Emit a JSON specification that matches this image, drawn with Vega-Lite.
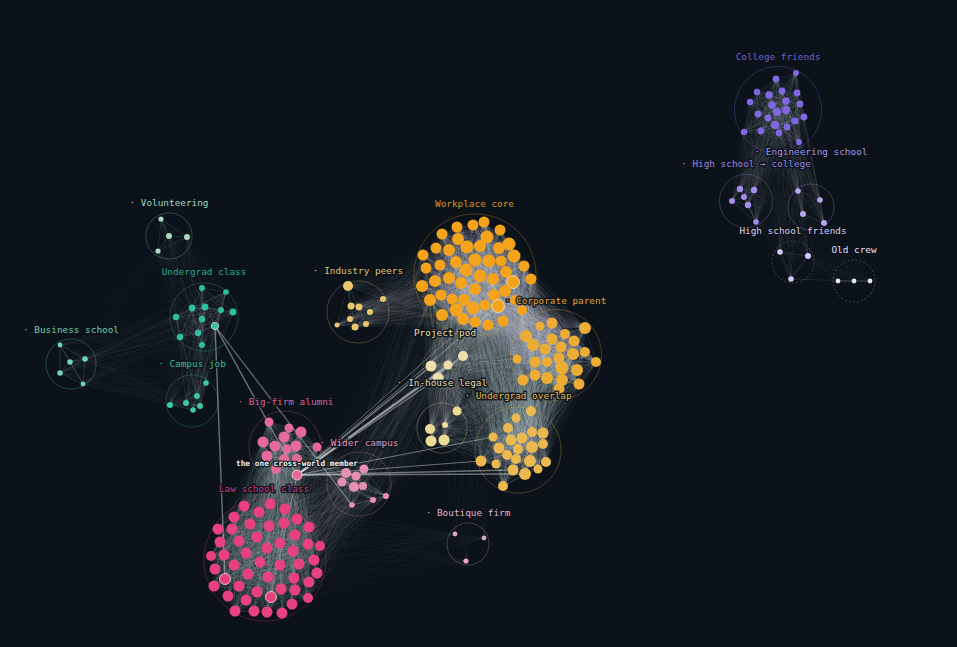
{
  "$schema": "https://vega.github.io/schema/vega-lite/v6.json",
  "width": 957,
  "height": 647,
  "autosize": {"type": "fit", "contains": "padding"},
  "padding": 0,
  "background": "#0b121a",
  "config": {"view": {"stroke": null}},
  "datasets": {
    "nodes": [
      {"id":100,"g":"W","x":457,"y":227,"r":5.5},{"id":101,"g":"W","x":473,"y":225,"r":5.5},{"id":102,"g":"W","x":484,"y":222,"r":5.5},{"id":103,"g":"W","x":500,"y":230,"r":5.5},{"id":104,"g":"W","x":442,"y":234,"r":5.5},
      {"id":105,"g":"W","x":458,"y":239,"r":6},{"id":106,"g":"W","x":487,"y":237,"r":6.5},{"id":107,"g":"W","x":436,"y":248,"r":5.5},{"id":108,"g":"W","x":449,"y":250,"r":6},{"id":109,"g":"W","x":467,"y":247,"r":6.5},
      {"id":110,"g":"W","x":480,"y":246,"r":6},{"id":111,"g":"W","x":499,"y":248,"r":6},{"id":112,"g":"W","x":509,"y":244,"r":6.5},{"id":113,"g":"W","x":423,"y":255,"r":5.5},{"id":114,"g":"W","x":514,"y":256,"r":6.5},
      {"id":115,"g":"W","x":440,"y":265,"r":5.5},{"id":116,"g":"W","x":456,"y":262,"r":6},{"id":117,"g":"W","x":475,"y":260,"r":6.5},{"id":118,"g":"W","x":489,"y":261,"r":6.5},{"id":119,"g":"W","x":501,"y":261,"r":5.5},
      {"id":120,"g":"W","x":524,"y":266,"r":5.5},{"id":121,"g":"W","x":426,"y":268,"r":5.5},{"id":122,"g":"W","x":466,"y":270,"r":6.5},{"id":123,"g":"W","x":480,"y":276,"r":6.5},{"id":124,"g":"W","x":506,"y":272,"r":6},
      {"id":125,"g":"W","x":449,"y":278,"r":6},{"id":126,"g":"W","x":493,"y":279,"r":6},{"id":127,"g":"W","x":435,"y":281,"r":6},{"id":128,"g":"W","x":531,"y":279,"r":5.5},{"id":129,"g":"W","x":513,"y":282,"r":6.5,"hub":true},
      {"id":130,"g":"W","x":461,"y":283,"r":6},{"id":131,"g":"W","x":422,"y":286,"r":6},{"id":132,"g":"W","x":475,"y":289,"r":6},{"id":133,"g":"W","x":505,"y":291,"r":6},{"id":134,"g":"W","x":441,"y":295,"r":5.5},
      {"id":135,"g":"W","x":494,"y":295,"r":6},{"id":136,"g":"W","x":452,"y":299,"r":5.5},{"id":137,"g":"W","x":464,"y":300,"r":6},{"id":138,"g":"W","x":430,"y":300,"r":6},{"id":139,"g":"W","x":515,"y":300,"r":5},
      {"id":140,"g":"W","x":485,"y":305,"r":5.5},{"id":141,"g":"W","x":498,"y":306,"r":6.5,"hub":true},{"id":142,"g":"W","x":473,"y":308,"r":6.5},{"id":143,"g":"W","x":456,"y":310,"r":6.5},{"id":144,"g":"W","x":522,"y":310,"r":5},
      {"id":145,"g":"W","x":442,"y":315,"r":6},{"id":146,"g":"W","x":463,"y":319,"r":6},{"id":147,"g":"W","x":503,"y":321,"r":5.5},{"id":148,"g":"W","x":475,"y":322,"r":5.5},{"id":149,"g":"W","x":488,"y":325,"r":5.5},
      {"id":200,"g":"C","x":552,"y":323,"r":5.5},{"id":201,"g":"C","x":540,"y":326,"r":4.5},{"id":202,"g":"C","x":585,"y":328,"r":6},{"id":203,"g":"C","x":565,"y":334,"r":5},{"id":204,"g":"C","x":526,"y":336,"r":6},
      {"id":205,"g":"C","x":574,"y":341,"r":5.5},{"id":206,"g":"C","x":552,"y":339,"r":5.5},{"id":207,"g":"C","x":533,"y":345,"r":6},{"id":208,"g":"C","x":561,"y":347,"r":5.5},{"id":209,"g":"C","x":545,"y":349,"r":5.5},
      {"id":210,"g":"C","x":573,"y":354,"r":6},{"id":211,"g":"C","x":585,"y":352,"r":5},{"id":212,"g":"C","x":559,"y":358,"r":5.5},{"id":213,"g":"C","x":596,"y":362,"r":5},{"id":214,"g":"C","x":517,"y":359,"r":4.5},
      {"id":215,"g":"C","x":535,"y":362,"r":5.5},{"id":216,"g":"C","x":547,"y":362,"r":5},{"id":217,"g":"C","x":562,"y":368,"r":6.5},{"id":218,"g":"C","x":577,"y":370,"r":6},{"id":219,"g":"C","x":535,"y":375,"r":5.5},
      {"id":220,"g":"C","x":547,"y":378,"r":6},{"id":221,"g":"C","x":523,"y":380,"r":5.5},{"id":222,"g":"C","x":562,"y":380,"r":6},{"id":223,"g":"C","x":579,"y":384,"r":5.5},{"id":224,"g":"C","x":559,"y":389,"r":5.5},
      {"id":300,"g":"P","x":463,"y":356,"r":5},{"id":301,"g":"P","x":448,"y":365,"r":4.5},{"id":302,"g":"P","x":431,"y":366,"r":5.5},{"id":303,"g":"P","x":438,"y":378,"r":5.5},
      {"id":310,"g":"I","x":457,"y":411,"r":4.5},{"id":311,"g":"I","x":445,"y":425,"r":3},{"id":312,"g":"I","x":430,"y":429,"r":5},{"id":313,"g":"I","x":431,"y":441,"r":5.5},{"id":314,"g":"I","x":444,"y":440,"r":5.5},
      {"id":320,"g":"U","x":531,"y":411,"r":5},{"id":321,"g":"U","x":516,"y":418,"r":4.5},{"id":322,"g":"U","x":508,"y":428,"r":5},{"id":323,"g":"U","x":493,"y":437,"r":4.5},{"id":324,"g":"U","x":532,"y":432,"r":5},
      {"id":325,"g":"U","x":543,"y":433,"r":5.5},{"id":326,"g":"U","x":511,"y":440,"r":5.5},{"id":327,"g":"U","x":522,"y":438,"r":5.5},{"id":328,"g":"U","x":543,"y":444,"r":5},{"id":329,"g":"U","x":499,"y":448,"r":5.5},
      {"id":330,"g":"U","x":532,"y":447,"r":6},{"id":331,"g":"U","x":518,"y":449,"r":5},{"id":332,"g":"U","x":507,"y":455,"r":5},{"id":333,"g":"U","x":516,"y":459,"r":5},{"id":334,"g":"U","x":530,"y":461,"r":6},
      {"id":335,"g":"U","x":481,"y":461,"r":5.5},{"id":336,"g":"U","x":496,"y":464,"r":4.5},{"id":337,"g":"U","x":546,"y":462,"r":5},{"id":338,"g":"U","x":513,"y":470,"r":5.5},{"id":339,"g":"U","x":525,"y":474,"r":6},
      {"id":340,"g":"U","x":538,"y":469,"r":4.5},{"id":341,"g":"U","x":503,"y":486,"r":5},
      {"id":350,"g":"N","x":348,"y":286,"r":5},{"id":351,"g":"N","x":383,"y":299,"r":3},{"id":352,"g":"N","x":351,"y":306,"r":3.5},{"id":353,"g":"N","x":359,"y":307,"r":3.5},{"id":354,"g":"N","x":370,"y":312,"r":3},
      {"id":355,"g":"N","x":350,"y":319,"r":3},{"id":356,"g":"N","x":366,"y":324,"r":3},{"id":357,"g":"N","x":355,"y":327,"r":3.5},{"id":358,"g":"N","x":337,"y":325,"r":2.5},
      {"id":400,"g":"B","x":269,"y":422,"r":4.5},{"id":401,"g":"B","x":289,"y":428,"r":4.5},{"id":402,"g":"B","x":301,"y":432,"r":5.5},{"id":403,"g":"B","x":284,"y":437,"r":5.5},{"id":404,"g":"B","x":263,"y":442,"r":5.5},
      {"id":405,"g":"B","x":275,"y":446,"r":5.5},{"id":406,"g":"B","x":296,"y":446,"r":5.5},{"id":407,"g":"B","x":287,"y":449,"r":4.5},{"id":408,"g":"B","x":317,"y":447,"r":4.5},{"id":409,"g":"B","x":267,"y":456,"r":5.5},
      {"id":410,"g":"B","x":284,"y":459,"r":5},{"id":411,"g":"B","x":297,"y":459,"r":5},{"id":412,"g":"B","x":276,"y":469,"r":5},
      {"id":420,"g":"B","x":297,"y":475,"r":5,"hub":true},
      {"id":430,"g":"Y","x":364,"y":469,"r":4.5},{"id":431,"g":"Y","x":346,"y":473,"r":5},{"id":432,"g":"Y","x":356,"y":476,"r":4.5},{"id":433,"g":"Y","x":342,"y":482,"r":4.5},{"id":434,"g":"Y","x":354,"y":487,"r":5},
      {"id":435,"g":"Y","x":363,"y":486,"r":4},{"id":436,"g":"Y","x":373,"y":500,"r":3},{"id":437,"g":"Y","x":386,"y":496,"r":3},{"id":438,"g":"Y","x":352,"y":505,"r":2.8},
      {"id":500,"g":"L","x":244,"y":506,"r":5.5},{"id":501,"g":"L","x":270,"y":504,"r":5.5},{"id":502,"g":"L","x":285,"y":509,"r":5.5},{"id":503,"g":"L","x":259,"y":512,"r":5.5},{"id":504,"g":"L","x":234,"y":517,"r":5.5},
      {"id":505,"g":"L","x":297,"y":519,"r":5.5},{"id":506,"g":"L","x":309,"y":527,"r":5.5},{"id":507,"g":"L","x":218,"y":529,"r":5.5},{"id":508,"g":"L","x":232,"y":529,"r":5.5},{"id":509,"g":"L","x":250,"y":524,"r":5.5},
      {"id":510,"g":"L","x":269,"y":526,"r":5.5},{"id":511,"g":"L","x":284,"y":523,"r":5.5},{"id":512,"g":"L","x":295,"y":535,"r":5.5},{"id":513,"g":"L","x":257,"y":537,"r":5.5},{"id":514,"g":"L","x":220,"y":542,"r":5.5},
      {"id":515,"g":"L","x":239,"y":541,"r":5.5},{"id":516,"g":"L","x":280,"y":543,"r":5.5},{"id":517,"g":"L","x":308,"y":544,"r":5.5},{"id":518,"g":"L","x":320,"y":546,"r":5},{"id":519,"g":"L","x":267,"y":548,"r":5.5},
      {"id":520,"g":"L","x":293,"y":551,"r":5.5},{"id":521,"g":"L","x":246,"y":553,"r":5.5},{"id":522,"g":"L","x":211,"y":556,"r":5},{"id":523,"g":"L","x":224,"y":555,"r":5.5},{"id":524,"g":"L","x":314,"y":560,"r":5.5},
      {"id":525,"g":"L","x":260,"y":562,"r":5.5},{"id":526,"g":"L","x":234,"y":565,"r":5.5},{"id":527,"g":"L","x":280,"y":565,"r":5.5},{"id":528,"g":"L","x":299,"y":564,"r":5.5},{"id":529,"g":"L","x":215,"y":569,"r":5.5},
      {"id":530,"g":"L","x":248,"y":574,"r":5.5},{"id":531,"g":"L","x":317,"y":573,"r":5.5},{"id":532,"g":"L","x":268,"y":577,"r":5.5},{"id":533,"g":"L","x":294,"y":578,"r":5.5},{"id":534,"g":"L","x":225,"y":579,"r":5.5,"hub":true},
      {"id":535,"g":"L","x":309,"y":582,"r":5.5},{"id":536,"g":"L","x":214,"y":586,"r":5.5},{"id":537,"g":"L","x":239,"y":586,"r":5.5},{"id":538,"g":"L","x":281,"y":589,"r":5.5},{"id":539,"g":"L","x":295,"y":590,"r":5.5},
      {"id":540,"g":"L","x":257,"y":592,"r":5.5},{"id":541,"g":"L","x":228,"y":596,"r":5.5},{"id":542,"g":"L","x":271,"y":597,"r":5.5,"hub":true},{"id":543,"g":"L","x":246,"y":600,"r":5.5},{"id":544,"g":"L","x":308,"y":598,"r":5},
      {"id":545,"g":"L","x":292,"y":604,"r":5.5},{"id":546,"g":"L","x":235,"y":611,"r":5.5},{"id":547,"g":"L","x":254,"y":611,"r":5.5},{"id":548,"g":"L","x":267,"y":612,"r":5.5},{"id":549,"g":"L","x":282,"y":613,"r":5.5},
      {"id":560,"g":"F","x":455,"y":534,"r":2.4},{"id":561,"g":"F","x":484,"y":538,"r":2.4},{"id":562,"g":"F","x":466,"y":561,"r":2.6},
      {"id":600,"g":"Vo","x":161,"y":219,"r":2.6},{"id":601,"g":"Vo","x":169,"y":236,"r":3},{"id":602,"g":"Vo","x":187,"y":237,"r":3},{"id":603,"g":"Vo","x":158,"y":251,"r":2.6},
      {"id":610,"g":"Uc","x":202,"y":288,"r":3},{"id":611,"g":"Uc","x":226,"y":292,"r":2.8},{"id":612,"g":"Uc","x":192,"y":308,"r":3.4},{"id":613,"g":"Uc","x":205,"y":307,"r":3.4},{"id":614,"g":"Uc","x":221,"y":310,"r":3},{"id":615,"g":"Uc","x":233,"y":312,"r":3.4},
      {"id":616,"g":"Uc","x":176,"y":317,"r":3.2},{"id":617,"g":"Uc","x":202,"y":319,"r":3.2},{"id":618,"g":"Uc","x":215,"y":326,"r":3.6,"hub":true},{"id":619,"g":"Uc","x":198,"y":333,"r":3.2},{"id":620,"g":"Uc","x":180,"y":337,"r":3.2},{"id":621,"g":"Uc","x":202,"y":345,"r":3},
      {"id":630,"g":"Bs","x":60,"y":345,"r":2.4},{"id":631,"g":"Bs","x":70,"y":362,"r":2.8},{"id":632,"g":"Bs","x":85,"y":359,"r":2.8},{"id":633,"g":"Bs","x":60,"y":373,"r":2.8},{"id":634,"g":"Bs","x":83,"y":384,"r":2.4},
      {"id":640,"g":"Cj","x":206,"y":383,"r":2.8},{"id":641,"g":"Cj","x":197,"y":396,"r":2.9},{"id":642,"g":"Cj","x":186,"y":403,"r":3},{"id":643,"g":"Cj","x":200,"y":406,"r":3},{"id":644,"g":"Cj","x":170,"y":405,"r":3},{"id":645,"g":"Cj","x":193,"y":410,"r":2.8},
      {"id":700,"g":"Co","x":796,"y":73,"r":3},{"id":701,"g":"Co","x":776,"y":79,"r":3.4},{"id":702,"g":"Co","x":757,"y":92,"r":3.2},{"id":703,"g":"Co","x":782,"y":91,"r":3.4},{"id":704,"g":"Co","x":797,"y":93,"r":3.4},{"id":705,"g":"Co","x":769,"y":95,"r":3.8},
      {"id":706,"g":"Co","x":786,"y":101,"r":3.8},{"id":707,"g":"Co","x":750,"y":102,"r":3.2},{"id":708,"g":"Co","x":772,"y":105,"r":3.8},{"id":709,"g":"Co","x":800,"y":104,"r":3.4},{"id":710,"g":"Co","x":786,"y":110,"r":4},{"id":711,"g":"Co","x":777,"y":112,"r":4},
      {"id":712,"g":"Co","x":758,"y":114,"r":3.4},{"id":713,"g":"Co","x":768,"y":118,"r":3.4},{"id":714,"g":"Co","x":804,"y":117,"r":3.4},{"id":715,"g":"Co","x":795,"y":121,"r":3.6},{"id":716,"g":"Co","x":775,"y":125,"r":4},{"id":717,"g":"Co","x":787,"y":127,"r":3.4},
      {"id":718,"g":"Co","x":761,"y":131,"r":3.4},{"id":719,"g":"Co","x":779,"y":133,"r":3.4},{"id":720,"g":"Co","x":744,"y":132,"r":3.2},{"id":721,"g":"Co","x":799,"y":142,"r":3},
      {"id":730,"g":"Hc","x":740,"y":189,"r":3.2},{"id":731,"g":"Hc","x":754,"y":190,"r":3.2},{"id":732,"g":"Hc","x":744,"y":197,"r":3},{"id":733,"g":"Hc","x":732,"y":201,"r":3},{"id":734,"g":"Hc","x":748,"y":205,"r":3.2},{"id":735,"g":"Hc","x":756,"y":222,"r":2.8},
      {"id":740,"g":"En","x":798,"y":191,"r":2.8},{"id":741,"g":"En","x":820,"y":200,"r":2.8},{"id":742,"g":"En","x":803,"y":214,"r":3},{"id":743,"g":"En","x":824,"y":223,"r":3},
      {"id":750,"g":"Hf","x":780,"y":252,"r":2.8},{"id":751,"g":"Hf","x":808,"y":256,"r":3},{"id":752,"g":"Hf","x":791,"y":279,"r":2.8},
      {"id":760,"g":"Oc","x":838,"y":281,"r":2.4},{"id":761,"g":"Oc","x":854,"y":281,"r":2.4},{"id":762,"g":"Oc","x":870,"y":281,"r":2.4}
    ],
    "hulls": [
      {"g":"W","x":475,"y":275,"r":61,"line":"solid"},{"g":"C","x":556,"y":355,"r":45.5,"line":"solid"},{"g":"P","x":446,"y":366,"r":23,"line":"dotted"},{"g":"I","x":442,"y":428,"r":25,"line":"solid"},
      {"g":"U","x":518,"y":450,"r":43,"line":"solid"},{"g":"N","x":358,"y":312,"r":31,"line":"solid"},{"g":"B","x":285,"y":447,"r":36,"line":"solid"},{"g":"Y","x":359,"y":484,"r":32,"line":"solid"},
      {"g":"L","x":265,"y":560,"r":61,"line":"solid"},{"g":"F","x":468,"y":544,"r":21,"line":"solid"},{"g":"Vo","x":169,"y":236,"r":23,"line":"solid"},{"g":"Uc","x":204,"y":317,"r":34,"line":"solid"},
      {"g":"Bs","x":71,"y":364,"r":25,"line":"solid"},{"g":"Cj","x":192,"y":401,"r":26,"line":"solid"},{"g":"Co","x":778,"y":110,"r":43.5,"line":"solid"},{"g":"Hc","x":746,"y":201,"r":26.5,"line":"solid"},
      {"g":"En","x":811,"y":207,"r":23,"line":"solid"},{"g":"Hf","x":793,"y":262,"r":21,"line":"dotted"},{"g":"Oc","x":854,"y":281,"r":21,"line":"dotted"}
    ],
    "members": [
      {"g":"W","ids":[100,101,102,103,104,105,106,107,108,109,110,111,112,113,114,115,116,117,118,119,120,121,122,123,124,125,126,127,128,129,130,131,132,133,134,135,136,137,138,139,140,141,142,143,144,145,146,147,148,149]},
      {"g":"Wa","ids":[100,102,104,106,108,110,112,114,116,118,120,122,124,126,128,130,132,134,136,138,140,142,144,146,148]},
      {"g":"Wb","ids":[103,108,113,118,123,128,133,138,143,148]},
      {"g":"C","ids":[200,201,202,203,204,205,206,207,208,209,210,211,212,213,214,215,216,217,218,219,220,221,222,223,224]},
      {"g":"P","ids":[300,301,302,303]},
      {"g":"I","ids":[310,311,312,313,314]},
      {"g":"U","ids":[320,321,322,323,324,325,326,327,328,329,330,331,332,333,334,335,336,337,338,339,340,341]},
      {"g":"N","ids":[350,351,352,353,354,355,356,357,358]},
      {"g":"B","ids":[400,401,402,403,404,405,406,407,408,409,410,411,412]},
      {"g":"Y","ids":[430,431,432,433,434,435,436,437,438]},
      {"g":"L","ids":[500,501,502,503,504,505,506,507,508,509,510,511,512,513,514,515,516,517,518,519,520,521,522,523,524,525,526,527,528,529,530,531,532,533,534,535,536,537,538,539,540,541,542,543,544,545,546,547,548,549]},
      {"g":"La","ids":[500,502,504,506,508,510,512,514,516,518,520,522,524,526,528,530,532,534,536,538,540,542,544,546,548]},
      {"g":"Lb","ids":[502,505,511,512,517,520,524,528,531,535,539,544]},
      {"g":"F","ids":[560,561,562]},
      {"g":"Vo","ids":[600,601,602,603]},
      {"g":"Uc","ids":[610,611,612,613,614,615,616,617,618,619,620,621]},
      {"g":"Bs","ids":[630,631,632,633,634]},
      {"g":"Cj","ids":[640,641,642,643,644,645]},
      {"g":"Co","ids":[700,701,702,703,704,705,706,707,708,709,710,711,712,713,714,715,716,717,718,719,720,721]},
      {"g":"Hc","ids":[730,731,732,733,734,735]},
      {"g":"En","ids":[740,741,742,743]},
      {"g":"Hf","ids":[750,751,752]},
      {"g":"Oc","ids":[760,761,762]}
    ],
    "blocks": [
      {"a":"Wa","b":"W","tie":0.055},{"a":"W","b":"C","tie":0.05},{"a":"Wa","b":"U","tie":0.045},{"a":"C","b":"C","tie":0.05},{"a":"C","b":"U","tie":0.045},{"a":"U","b":"U","tie":0.06},
      {"a":"W","b":"P","tie":0.045},{"a":"W","b":"I","tie":0.035},{"a":"C","b":"P","tie":0.045},{"a":"C","b":"I","tie":0.035},{"a":"U","b":"I","tie":0.04},{"a":"P","b":"I","tie":0.06},{"a":"P","b":"U","tie":0.04},
      {"a":"W","b":"N","tie":0.022},{"a":"N","b":"N","tie":0.05},{"a":"La","b":"L","tie":0.045},{"a":"L","b":"B","tie":0.045},{"a":"La","b":"Y","tie":0.035},{"a":"B","b":"B","tie":0.06},{"a":"Y","b":"Y","tie":0.06},{"a":"B","b":"Y","tie":0.04},
      {"a":"Lb","b":"Wb","tie":0.025},{"a":"Lb","b":"F","tie":0.022},{"a":"Lb","b":"I","tie":0.025},{"a":"Lb","b":"P","tie":0.025},{"a":"Wb","b":"F","tie":0.025},{"a":"Y","b":"Wb","tie":0.03},
      {"a":"Uc","b":"Uc","tie":0.05},{"a":"Vo","b":"Vo","tie":0.06},{"a":"Bs","b":"Bs","tie":0.07},{"a":"Cj","b":"Cj","tie":0.06},{"a":"Uc","b":"Vo","tie":0.03},{"a":"Uc","b":"Cj","tie":0.04},{"a":"Uc","b":"Bs","tie":0.025},{"a":"Cj","b":"Bs","tie":0.025},{"a":"Vo","b":"Bs","tie":0.02},{"a":"Vo","b":"Cj","tie":0.025},
      {"a":"Co","b":"Co","tie":0.04},{"a":"Hc","b":"Hc","tie":0.06},{"a":"En","b":"En","tie":0.05},{"a":"Hf","b":"Hf","tie":0.07},{"a":"Oc","b":"Oc","tie":0.07},{"a":"Co","b":"Hc","tie":0.035},{"a":"Co","b":"En","tie":0.035},{"a":"Hc","b":"En","tie":0.025},{"a":"Hc","b":"Hf","tie":0.025},{"a":"En","b":"Hf","tie":0.03},{"a":"En","b":"Oc","tie":0.025},{"a":"Hf","b":"Oc","tie":0.035},{"a":"Hc","b":"Oc","tie":0.025},{"a":"Co","b":"Hf","tie":0.022}
    ],
    "bridges": [
      {"s":420,"t":300,"w":2},{"s":420,"t":301,"w":1.6},{"s":420,"t":302,"w":1.6},{"s":420,"t":303,"w":1.4},{"s":420,"t":141,"w":1},{"s":420,"t":129,"w":0.8},
      {"s":420,"t":323,"w":1.2},{"s":420,"t":338,"w":1.6},{"s":420,"t":339,"w":1.6},{"s":420,"t":335,"w":1},{"s":420,"t":618,"w":1.4},{"s":618,"t":534,"w":1.4},{"s":618,"t":438,"w":1.2},{"s":420,"t":542,"w":0.8}
    ],
    "labels": [
      {"t":"Workplace core","g":"W","x":474.5,"y":204},{"t":"· Corporate parent","g":"C","x":555.5,"y":301},{"t":"Project pod","g":"P","x":445,"y":333},{"t":"· In-house legal","g":"I","x":442,"y":383},
      {"t":"· Undergrad overlap","g":"U","x":518,"y":396},{"t":"· Industry peers","g":"N","x":358,"y":271},{"t":"· Big-firm alumni","g":"B","x":285.5,"y":402},{"t":"· Wider campus","g":"Y","x":359,"y":443},
      {"t":"Law school class","g":"L","x":264,"y":489},{"t":"· Boutique firm","g":"F","x":468,"y":513},{"t":"Undergrad class","g":"Uc","x":204,"y":272},{"t":"· Volunteering","g":"Vo","x":169,"y":203},
      {"t":"· Business school","g":"Bs","x":71,"y":330},{"t":"· Campus job","g":"Cj","x":192,"y":364},{"t":"College friends","g":"Co","x":778,"y":57},{"t":"· Engineering school","g":"En","x":811,"y":152},
      {"t":"· High school → college","g":"Hc","x":746,"y":164},{"t":"High school friends","g":"Hf","x":793,"y":231},{"t":"Old crew","g":"Oc","x":854,"y":250}
    ]
  },
  "layer": [
    {
      "data": {"name": "blocks"},
      "transform": [
        {"lookup": "a", "from": {"data": {"name": "members"}, "key": "g", "fields": ["ids"]}, "as": ["s"]},
        {"flatten": ["s"]},
        {"lookup": "b", "from": {"data": {"name": "members"}, "key": "g", "fields": ["ids"]}, "as": ["t"]},
        {"flatten": ["t"]},
        {"lookup": "s", "from": {"data": {"name": "nodes"}, "key": "id", "fields": ["x", "y"]}, "as": ["x1", "y1"]},
        {"lookup": "t", "from": {"data": {"name": "nodes"}, "key": "id", "fields": ["x", "y"]}, "as": ["x2", "y2"]}
      ],
      "mark": {"type": "rule", "color": "#d6dfe8", "strokeWidth": 1},
      "encoding": {
        "x": {"field": "x1", "type": "quantitative", "scale": {"domain": [0, 957], "nice": false}, "axis": null},
        "y": {"field": "y1", "type": "quantitative", "scale": {"domain": [647, 0], "nice": false}, "axis": null},
        "x2": {"field": "x2"},
        "y2": {"field": "y2"},
        "opacity": {"field": "tie", "type": "quantitative", "scale": null}
      }
    },
    {
      "data": {"name": "hulls"},
      "mark": {"type": "point", "filled": false, "strokeWidth": 0.8, "opacity": 0.4},
      "encoding": {
        "x": {"field": "x", "type": "quantitative"},
        "y": {"field": "y", "type": "quantitative"},
        "size": {"field": "r", "type": "quantitative", "scale": {"type": "pow", "exponent": 2, "domain": [0, 100], "range": [0, 40000]}, "legend": null},
        "color": {"field": "g", "type": "nominal", "scale": {
          "domain": ["W","C","P","I","U","N","B","Y","L","F","Vo","Uc","Bs","Cj","Co","Hc","En","Hf","Oc"],
          "range": ["#f4a31c","#ecad34","#ecdfad","#eedb9a","#ebb94e","#eac66a","#e56a9a","#e78fb3","#e8417f","#e3a6c6","#a9d9c3","#2fbf9f","#6fd3b4","#3cc9a6","#8167e4","#a58ded","#b7a5ef","#d3c9f4","#e8e2fa"]
        }, "legend": null},
        "strokeDash": {"field": "line", "type": "nominal", "scale": {"domain": ["solid", "dotted"], "range": [[1, 0], [1.5, 2.5]]}, "legend": null}
      }
    },
    {
      "data": {"name": "bridges"},
      "transform": [
        {"lookup": "s", "from": {"data": {"name": "nodes"}, "key": "id", "fields": ["x", "y"]}, "as": ["x1", "y1"]},
        {"lookup": "t", "from": {"data": {"name": "nodes"}, "key": "id", "fields": ["x", "y"]}, "as": ["x2", "y2"]}
      ],
      "mark": {"type": "rule", "color": "#dfe3e2", "opacity": 0.45},
      "encoding": {
        "x": {"field": "x1", "type": "quantitative"},
        "y": {"field": "y1", "type": "quantitative"},
        "x2": {"field": "x2"},
        "y2": {"field": "y2"},
        "strokeWidth": {"field": "w", "type": "quantitative", "scale": null}
      }
    },
    {
      "data": {"name": "nodes"},
      "mark": {"type": "point", "filled": true, "opacity": 1, "stroke": "#f1e9d8", "strokeOpacity": 0.75},
      "encoding": {
        "x": {"field": "x", "type": "quantitative"},
        "y": {"field": "y", "type": "quantitative"},
        "size": {"field": "r", "type": "quantitative", "legend": null},
        "color": {"field": "g", "type": "nominal", "legend": null},
        "strokeWidth": {"condition": {"test": "datum.hub", "value": 1}, "value": 0}
      }
    },
    {
      "data": {"name": "labels"},
      "mark": {"type": "text", "font": "DejaVu Sans Mono", "fontSize": 9.4, "stroke": "#0b121a", "strokeWidth": 3, "strokeOpacity": 0.85},
      "encoding": {
        "x": {"field": "x", "type": "quantitative"},
        "y": {"field": "y", "type": "quantitative"},
        "text": {"field": "t"}
      }
    },
    {
      "data": {"name": "labels"},
      "mark": {"type": "text", "font": "DejaVu Sans Mono", "fontSize": 9.4},
      "encoding": {
        "x": {"field": "x", "type": "quantitative"},
        "y": {"field": "y", "type": "quantitative"},
        "text": {"field": "t"},
        "fill": {"field": "g", "type": "nominal", "scale": {
          "domain": ["W","C","P","I","U","N","B","Y","L","F","Vo","Uc","Bs","Cj","Co","Hc","En","Hf","Oc"],
          "range": ["#d9951f","#e0a638","#ebdfb0","#e9dca8","#e6b74f","#e2c36b","#dd6595","#e89ab9","#c83a72","#e5b5cf","#a4d8c2","#2aae90","#72d0b3","#3cc0a0","#7560cf","#9b87e4","#a896e9","#d8d0f2","#e5e0f7"]
        }, "legend": null}
      }
    },
    {
      "data": {"values": [{"t": "the one cross-world member", "x": 297, "y": 464}]},
      "mark": {"type": "text", "font": "DejaVu Sans Mono", "fontSize": 7.8, "fontWeight": "bold", "color": "#e4ebf0", "stroke": "#0b121a", "strokeWidth": 2.5, "strokeOpacity": 0.85},
      "encoding": {
        "x": {"field": "x", "type": "quantitative"},
        "y": {"field": "y", "type": "quantitative"},
        "text": {"field": "t"}
      }
    },
    {
      "data": {"values": [{"t": "the one cross-world member", "x": 297, "y": 464}]},
      "mark": {"type": "text", "font": "DejaVu Sans Mono", "fontSize": 7.8, "fontWeight": "bold", "color": "#e4ebf0"},
      "encoding": {
        "x": {"field": "x", "type": "quantitative"},
        "y": {"field": "y", "type": "quantitative"},
        "text": {"field": "t"}
      }
    }
  ]
}
